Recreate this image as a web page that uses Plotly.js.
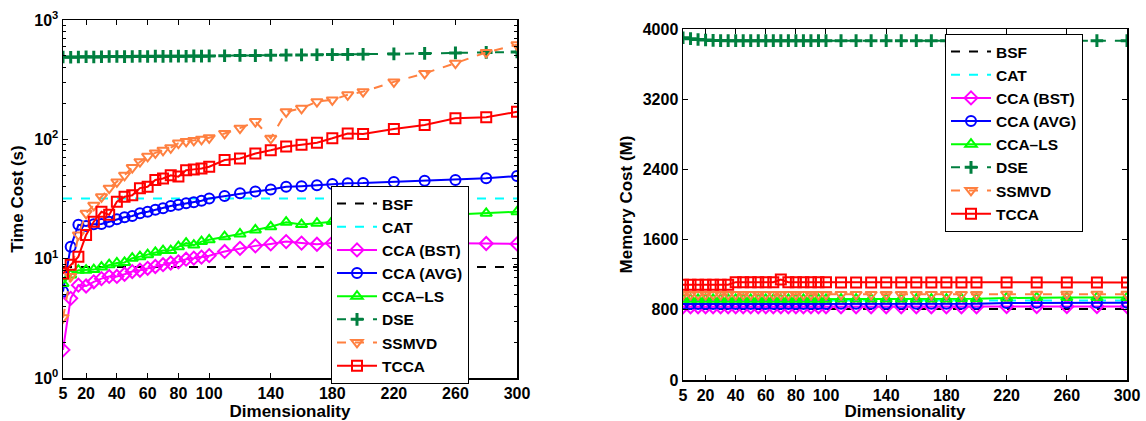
<!DOCTYPE html>
<html>
<head>
<meta charset="utf-8">
<script src="https://cdn.plot.ly/plotly-3.0.1.min.js"></script>
<style>html,body{margin:0;padding:0;background:#fff;}#chart{width:1146px;height:421px;}</style>
</head>
<body>
<div id="chart"></div>
<script>
// ---------- data ----------
const dims = [5,10,15,20,25,30,35,40,45,50,55,60,65,70,75,80,85,90,95,100,
              110,120,130,140,150,160,170,180,190,200,220,240,260,280,300];
const methods = ["BSF","CAT","CCA (BST)","CCA (AVG)","CCA–LS","DSE","SSMVD","TCCA"];
const xTicks = [5,20,40,60,80,100,140,180,220,260,300];
const timeTicks = [1,10,100,1000];
const timeTickText = ["10<sup>0</sup>","10<sup>1</sup>","10<sup>2</sup>","10<sup>3</sup>"];
const memTicks = [0,800,1600,2400,3200,4000];

// Time cost (s)
const timeBSF = [8.5,8.5,8.5,8.5,8.5,8.5,8.5,8.5,8.5,8.5,8.5,8.5,8.5,8.5,8.5,8.5,8.5,8.5,8.5,8.5,
                 8.5,8.5,8.5,8.5,8.5,8.5,8.5,8.5,8.5,8.5,8.5,8.5,8.5,8.5,8.5];
const timeCAT = [32,32,32,32,32,32,32,32,32,32,32,32,32,32,32,32,32,32,32,32,
                 32,32,32,32,32,32,32,32,32,32,32,32,32,32,32];
const timeBST = [1.72,4.65,6.0,5.9,6.4,6.8,7.1,7.1,7.4,7.8,8.0,8.3,8.6,8.9,9.2,9.4,9.9,10.1,10.3,10.6,
                 11.5,12.2,12.8,13.3,13.9,13.5,13.2,13.5,13.6,13.5,13.6,13.5,13.5,13.4,13.3];
const timeAVG = [5.3,12.6,19.2,18.8,19.4,19.5,20.4,21.4,22.2,22.8,24.0,24.7,25.7,26.4,27.6,28.3,29.1,29.7,30.6,32.0,
                 33.5,35.3,36.5,38.0,40.0,40.5,41.2,42.3,42.8,43.0,44.0,45.0,45.6,47.2,49.3];
const timeLS  = [6.2,7.3,8.0,8.0,8.1,8.5,8.9,9.2,9.3,10.1,10.4,10.8,11.3,11.7,11.7,12.6,13.5,13.0,13.9,14.4,
                 15.3,16.1,17.4,18.5,20.2,19.3,19.8,20.5,21.0,21.5,22.0,22.8,23.4,24.0,24.7];
const timeDSE = [490,488,490,492,490,492,495,495,493,495,497,495,498,496,497,498,497,500,498,500,
                 502,505,503,507,508,510,512,513,515,516,520,525,530,535,540];
const timeSSMVD = [3.2,7.1,15.8,24,28,33,39,44,50,58,65,72,77,81,85,93,96,98,100,103,
                   112,124,141,102,170,182,207,214,236,251,303,357,435,535,620];
const timeTCCA = [7.5,8.9,10.4,15.8,20.4,24.7,23.3,30,33,34,39,40,45.6,47,50,48.7,55,56,57,59,
                  67,69,76,81,87,90,93.7,102,112,111,122,132,150,153,170];

// Memory cost (M)
const memBSF = [810,810,810,810,810,810,810,810,810,810,810,810,810,810,810,810,810,810,810,810,
                810,810,810,810,810,810,810,810,810,810,810,810,810,810,810];
const memCAT = [905,905,905,905,905,905,905,905,905,905,905,905,905,905,905,905,905,905,905,905,
                905,905,905,905,905,905,905,905,905,905,905,905,905,905,905];
const memBST = [835,835,835,835,835,835,835,835,835,835,835,835,835,835,835,835,835,835,835,835,
                835,835,835,835,835,835,835,835,835,835,838,838,838,838,838];
const memAVG = [865,865,865,865,865,865,865,865,865,865,865,865,865,865,865,865,865,865,865,865,
                868,868,868,868,868,868,868,868,868,868,878,880,880,880,880];
const memLS  = [920,920,920,920,920,920,920,920,920,920,920,920,920,920,920,920,920,920,920,920,
                922,922,922,922,922,922,922,922,925,925,935,940,940,940,940];
const memDSE = [3900,3890,3880,3875,3870,3868,3867,3867,3867,3867,3867,3867,3867,3867,3867,3867,3867,3867,3867,3867,
                3867,3867,3867,3867,3867,3867,3867,3867,3867,3867,3867,3867,3867,3867,3867];
const memSSMVD = [975,975,975,975,975,975,975,975,975,975,975,975,975,975,975,975,975,975,975,975,
                  975,975,975,975,975,975,975,975,975,975,978,978,978,978,978];
const memTCCA = [1085,1085,1085,1085,1085,1085,1085,1115,1115,1115,1115,1115,1115,1145,1115,1115,1115,1115,1115,1115,
                 1112,1112,1112,1112,1112,1112,1112,1112,1112,1112,1112,1112,1112,1112,1112];

const timeSeries = [timeBSF,timeCAT,timeBST,timeAVG,timeLS,timeDSE,timeSSMVD,timeTCCA];
const memSeries  = [memBSF,memCAT,memBST,memAVG,memLS,memDSE,memSSMVD,memTCCA];

// ---------- styles ----------
const styles = [
  {color:'#000000', dash:'dash', symbol:null},
  {color:'#00FFFF', dash:'dash', symbol:null},
  {color:'#FF00FF', dash:'solid', symbol:'diamond-open'},
  {color:'#0000FF', dash:'solid', symbol:'circle-open'},
  {color:'#00FF00', dash:'solid', symbol:'triangle-up-open'},
  {color:'#007F3F', dash:'dash', symbol:'cross-thin-open'},
  {color:'#FF8040', dash:'dash', symbol:'triangle-down-open'},
  {color:'#FF0000', dash:'solid', symbol:'square-open'}
];

function makeTrace(i, ys, xa, ya, leg) {
  const s = styles[i];
  const t = {
    x: dims, y: ys, xaxis: xa, yaxis: ya, name: methods[i], legend: leg,
    type: 'scatter', mode: s.symbol ? 'lines+markers' : 'lines',
    line: {color: s.color, width: 2, dash: s.dash},
    hoverinfo: 'skip'
  };
  if (s.symbol) {
    const isCross = s.symbol.indexOf('cross') === 0;
    t.marker = {symbol: s.symbol, size: isCross ? 9 : 10, color: s.color,
                line: {color: s.color, width: isCross ? 3 : 2}};
  }
  return t;
}

const traces = [];
timeSeries.forEach((ys, i) => traces.push(makeTrace(i, ys, 'x', 'y', 'legend')));
memSeries.forEach((ys, i) => traces.push(makeTrace(i, ys, 'x2', 'y2', 'legend2')));

const FAM = '"Liberation Sans", Arial, sans-serif';
const TICKFONT = {family: FAM, size: 16, color: '#000', weight: 'bold'};
const TITLEFONT = {family: FAM, size: 17, color: '#000', weight: 'bold'};
const LFONT = {family: FAM, size: 15.5, color: '#000', weight: 'bold'};

const xBase = {
  range: [5, 300], tickmode: 'array', tickvals: xTicks, ticks: 'inside', ticklen: 5,
  tickwidth: 1, tickcolor: '#000', showline: true, linecolor: '#000', linewidth: 1.5,
  mirror: 'ticks', showgrid: false, zeroline: false, tickfont: TICKFONT,
  title: {text: 'Dimensionality', font: TITLEFONT, standoff: 2}
};

const layout = {
  width: 1146, height: 421,
  margin: {l: 0, r: 0, t: 20, b: 41},
  paper_bgcolor: '#fff', plot_bgcolor: '#fff',
  font: TICKFONT,
  showlegend: true,
  xaxis: Object.assign({}, xBase, {domain: [63/1146, 517/1146], anchor: 'y'}),
  yaxis: {
    type: 'log', range: [0, 3], domain: [2/360, 1], anchor: 'x',
    tickmode: 'array', tickvals: timeTicks, ticktext: timeTickText,
    ticks: 'inside', ticklen: 5, tickcolor: '#000',
    minor: {ticks: 'inside', ticklen: 3, tickcolor: '#000', dtick: 'D1', showgrid: false},
    showline: true, linecolor: '#000', linewidth: 1.5, mirror: 'ticks',
    showgrid: false, zeroline: false, tickfont: TICKFONT,
    title: {text: 'Time Cost (s)', font: TITLEFONT, standoff: 6}
  },
  xaxis2: Object.assign({}, xBase, {domain: [683/1146, 1127/1146], anchor: 'y2'}),
  yaxis2: {
    range: [0, 4000], domain: [0, 351/360], anchor: 'x2',
    tickmode: 'array', tickvals: memTicks,
    ticks: 'inside', ticklen: 5, tickcolor: '#000',
    showline: true, linecolor: '#000', linewidth: 1.5, mirror: 'ticks',
    showgrid: false, zeroline: false, tickfont: TICKFONT,
    title: {text: 'Memory Cost (M)', font: TITLEFONT, standoff: 6}
  },
  legend: {
    x: 331/1146, y: (380-186)/360, xanchor: 'left', yanchor: 'top',
    xref: 'paper', yref: 'paper',
    bgcolor: '#fff', bordercolor: '#000', borderwidth: 1,
    font: LFONT, tracegroupgap: 0, itemwidth: 40
  },
  legend2: {
    x: 945/1146, y: (380-34)/360, xanchor: 'left', yanchor: 'top',
    xref: 'paper', yref: 'paper',
    bgcolor: '#fff', bordercolor: '#000', borderwidth: 1,
    font: LFONT, tracegroupgap: 0, itemwidth: 40
  }
};

Plotly.newPlot('chart', traces, layout, {staticPlot: true, displayModeBar: false});
</script>
</body>
</html>
